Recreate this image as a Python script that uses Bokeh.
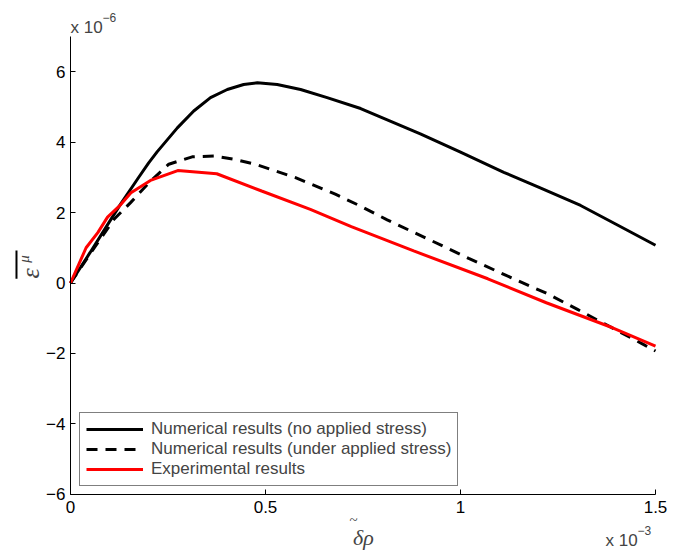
from bokeh.plotting import figure
from bokeh.models import Range1d, FixedTicker, Label, Legend, LegendItem, Arrow
from bokeh.embed import file_html
from bokeh.resources import INLINE

# x in units of 1e-3, y in units of 1e-6
x_no_stress = [0, 0.05, 0.1, 0.128, 0.175, 0.2, 0.222, 0.248, 0.274, 0.316, 0.359, 0.402, 0.444, 0.479,
               0.53, 0.59, 0.658, 0.744, 0.897, 1.0, 1.111, 1.2, 1.308, 1.4, 1.5]
y_no_stress = [0, 0.86, 1.74, 2.23, 3.0, 3.4, 3.72, 4.06, 4.40, 4.88, 5.26, 5.49, 5.63, 5.68,
               5.63, 5.49, 5.26, 4.95, 4.23, 3.71, 3.14, 2.72, 2.2, 1.66, 1.07]

x_stress = [0, 0.05, 0.111, 0.154, 0.205, 0.252, 0.312, 0.368, 0.419, 0.474, 0.577, 0.679,
            0.744, 0.812, 0.92, 1.021, 1.12, 1.222, 1.3, 1.368, 1.47, 1.5]
y_stress = [0, 0.82, 1.80, 2.28, 2.89, 3.37, 3.58, 3.60, 3.51, 3.37, 2.99, 2.52,
            2.18, 1.79, 1.23, 0.70, 0.2, -0.30, -0.75, -1.15, -1.75, -1.93]

x_exp = [0, 0.04, 0.07, 0.095, 0.125, 0.155, 0.205, 0.275, 0.375, 0.49, 0.615, 0.72,
         0.88, 1.07, 1.22, 1.39, 1.5]
y_exp = [0, 1.0, 1.43, 1.87, 2.18, 2.56, 2.91, 3.19, 3.10, 2.61, 2.09, 1.6,
         0.91, 0.12, -0.56, -1.27, -1.79]

x_limits = (0, 1.5)
y_limits = (-6, 7)
x_ticks = [0, 0.5, 1, 1.5]
x_tick_labels = ["0", "0.5", "1", "1.5"]
y_ticks = [-6, -4, -2, 0, 2, 4, 6]
y_tick_labels = ["\u22126", "\u22124", "\u22122", "0", "2", "4", "6"]

series_labels = ["Numerical results (no applied stress)",
                 "Numerical results (under applied stress)",
                 "Experimental results"]

FONT = "Liberation Sans"
SERIF = "Liberation Serif"

# the frame fills the whole canvas; the axes are drawn at fixed locations inside it
p = figure(width=681, height=552, output_backend="svg", toolbar_location=None,
           x_range=Range1d(-0.17949, 1.56667), y_range=Range1d(-7.6454, 8.0142),
           min_border=0)
p.grid.visible = False
p.outline_line_color = None
p.background_fill_color = "white"
p.border_fill_color = "white"

r1 = p.line(x_no_stress, y_no_stress, line_color="black", line_width=3)
r2 = p.line(x_stress, y_stress, line_color="black", line_width=3, line_dash="11 8")
r3 = p.line(x_exp, y_exp, line_color="red", line_width=3)

xa = p.xaxis[0]
ya = p.yaxis[0]
xa.fixed_location = y_limits[0]
xa.bounds = x_limits
ya.fixed_location = x_limits[0]
ya.bounds = y_limits
for ax, ticks, labels in ((xa, x_ticks, x_tick_labels), (ya, y_ticks, y_tick_labels)):
    ax.ticker = FixedTicker(ticks=ticks)
    ax.major_label_overrides = {t: l for t, l in zip(ticks, labels)}
    ax.minor_tick_line_color = None
    ax.major_tick_in = 5
    ax.major_tick_out = 0
    ax.axis_line_color = "black"
    ax.major_tick_line_color = "black"
    ax.major_label_text_font = FONT
    ax.major_label_text_font_size = "17px"
    ax.major_label_text_color = "black"
ya.major_label_standoff = 5
xa.major_label_standoff = 7

legend = Legend(items=[LegendItem(label=series_labels[0], renderers=[r1]),
                       LegendItem(label=series_labels[1], renderers=[r2]),
                       LegendItem(label=series_labels[2], renderers=[r3])],
                location=(79, 66), margin=0, padding=6, spacing=0,
                label_height=20, glyph_height=20, glyph_width=57, label_standoff=8,
                label_text_font=FONT, label_text_font_size="17px",
                border_line_color="black", border_line_width=1.5,
                background_fill_color="white", background_fill_alpha=1)
p.add_layout(legend)

# exponent labels
p.add_layout(Label(x=0, y=7.248, text="x 10", text_font=FONT, text_font_size="17px",
                   text_align="left", text_baseline="alphabetic"))
p.add_layout(Label(x=0.082, y=7.532, text="\u22126", text_font=FONT, text_font_size="12px",
                   text_align="left", text_baseline="alphabetic"))
p.add_layout(Label(x=1.372, y=-7.305, text="x 10", text_font=FONT, text_font_size="17px",
                   text_align="left", text_baseline="alphabetic"))
p.add_layout(Label(x=1.454, y=-7.01, text="\u22123", text_font=FONT, text_font_size="12px",
                   text_align="left", text_baseline="alphabetic"))

# x label: tilde over delta, then rho
p.add_layout(Label(x=0.751, y=-7.22, text="\u03b4\u03c1", text_font=SERIF,
                   text_font_style="italic", text_font_size="22px",
                   text_align="center", text_baseline="alphabetic"))
p.add_layout(Label(x=0.7256, y=-6.72, text="~", text_font=SERIF,
                   text_font_size="15px",
                   text_align="center", text_baseline="middle"))

# y label: overline(epsilon^mu), rotated
p.add_layout(Label(x=-0.1026, y=0.27, text="\u03b5", text_font=SERIF,
                   text_font_style="italic", text_font_size="26px", angle=1.5708,
                   text_align="center", text_baseline="middle"))
p.add_layout(Label(x=-0.118, y=0.68, text="\u03bc", text_font=SERIF,
                   text_font_style="italic", text_font_size="15px", angle=1.5708,
                   text_align="center", text_baseline="middle"))
p.add_layout(Arrow(end=None, x_start=-0.1385, y_start=0.12, x_end=-0.1385, y_end=0.92,
                   line_color="black", line_width=2))

open("out.html", "w").write(file_html(p, INLINE))
